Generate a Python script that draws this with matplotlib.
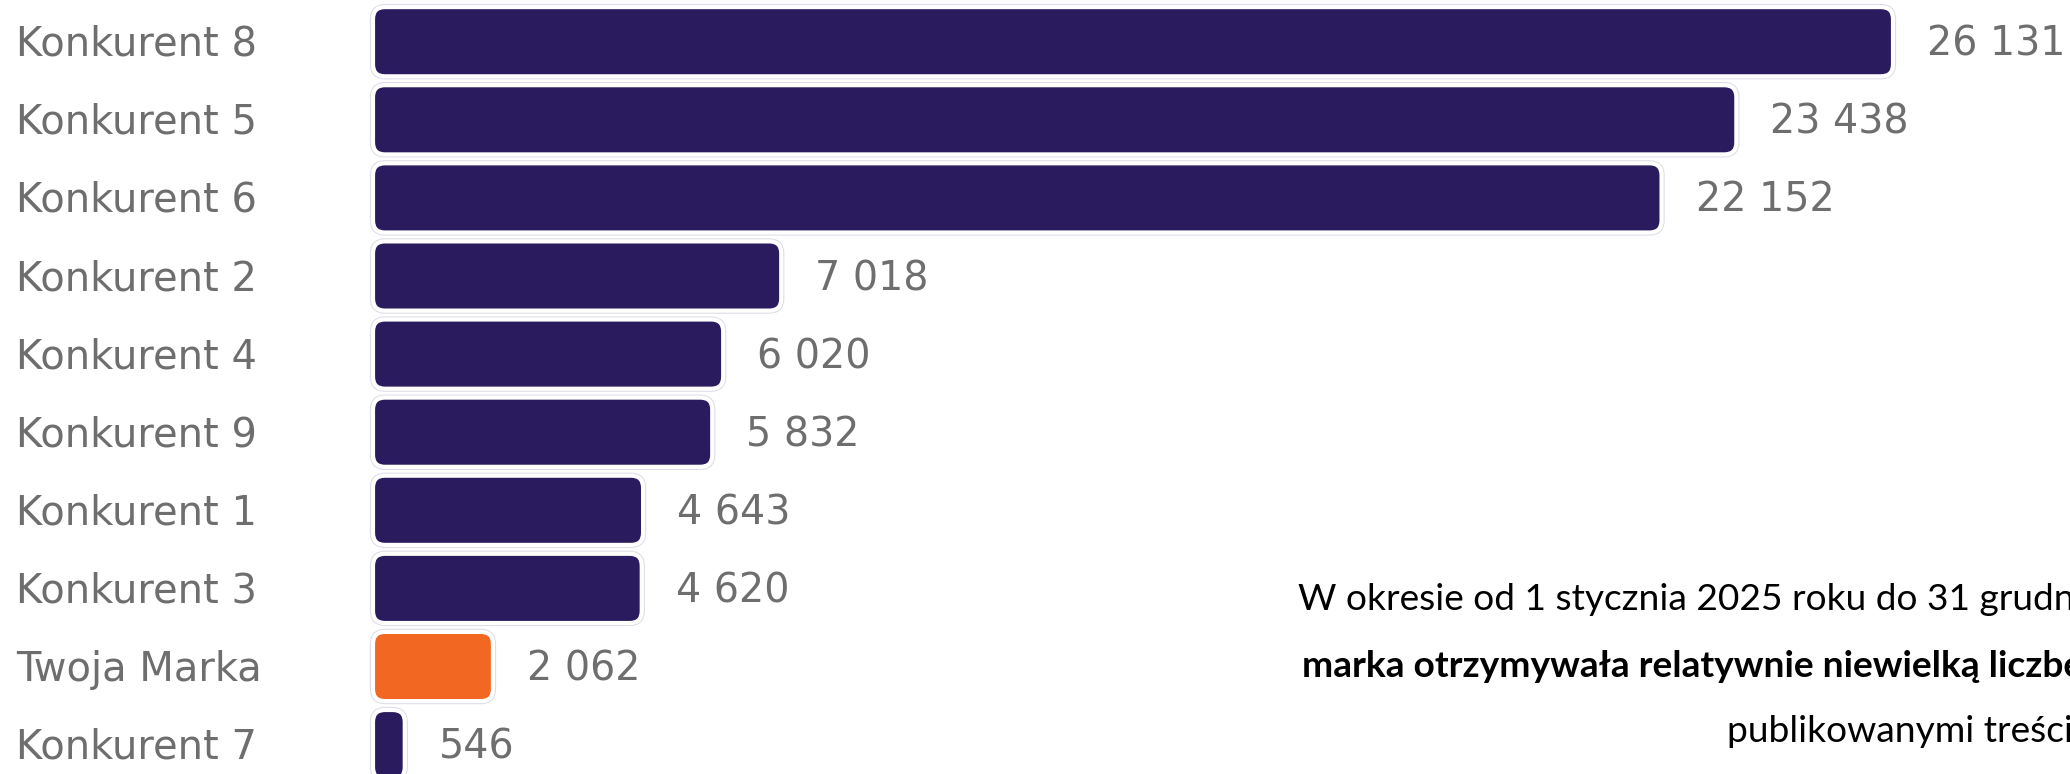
import matplotlib
matplotlib.use("Agg")
import matplotlib.pyplot as plt
import matplotlib.patheffects as pe
from matplotlib.patches import FancyBboxPatch

# interactions per brand, top to bottom
brands = ["Konkurent 8", "Konkurent 5", "Konkurent 6", "Konkurent 2", "Konkurent 4",
          "Konkurent 9", "Konkurent 1", "Konkurent 3", "Twoja Marka", "Konkurent 7"]
values = [26131, 23438, 22152, 7018, 6020, 5832, 4643, 4620, 2062, 546]
highlight = "Twoja Marka"

note_lines = [
    "W okresie od 1 stycznia 2025 roku do 31 grudnia 2025 roku Twoja",
    "marka otrzymywała relatywnie niewielką liczbę interakcji z",
    "publikowanymi treściami.",
]

PURPLE = "#2a1a5e"
ORANGE = "#f26722"
GREY = "#6e6e6e"

W, H, DPI = 2070, 774, 100
fig = plt.figure(figsize=(W / DPI, H / DPI), dpi=DPI)
ax = fig.add_axes([0, 0, 1, 1])
ax.axis("off")

# pixel layout of the bar area
x0_px = 373          # where bars start
px_per_unit = (1893 - 373) / 26131
row_px = 78.1
first_row_px = 41.7

ux = 1 / px_per_unit      # data units per pixel (x)
uy = 1 / row_px           # data units per pixel (y)
ax.set_xlim(-x0_px * ux, (W - x0_px) * ux)
ax.set_ylim(len(brands) - 1 + (H - first_row_px - (len(brands) - 1) * row_px) * uy,
            -first_row_px * uy)

bar_h = 0.886
radius = 12 * ux
text_dy = 3 * uy
for i, (name, v) in enumerate(zip(brands, values)):
    col = ORANGE if name == highlight else PURPLE
    box = FancyBboxPatch((0, i - bar_h / 2), v, bar_h,
                         boxstyle=f"round,pad=0,rounding_size={radius}",
                         mutation_aspect=uy / ux,
                         facecolor=col, edgecolor="white", linewidth=3)
    box.set_path_effects([pe.Stroke(linewidth=4.5, foreground="#dedde8"), pe.Normal()])
    ax.add_patch(box)
    ax.text(v + 34 * ux, i + text_dy, f"{v:,}".replace(",", " "), va="center",
            ha="left", fontsize=28.5, color=GREY, family="DejaVu Sans")
    ax.text(16 / W, i + text_dy, name, transform=ax.get_yaxis_transform(),
            va="center", ha="left", fontsize=28.8, color=GREY, family="DejaVu Sans")

# note in the lower right corner
note_x = [1298, 1302, 1727]
note_base = [610, 677, 742]
for k, line in enumerate(note_lines):
    fig.text(note_x[k] / W, 1 - note_base[k] / H, line, ha="left", va="baseline",
             fontsize=26.7, family="Lato", color="black",
             fontweight="bold" if k == 1 else "normal")

fig.savefig("out.png", dpi=DPI)
